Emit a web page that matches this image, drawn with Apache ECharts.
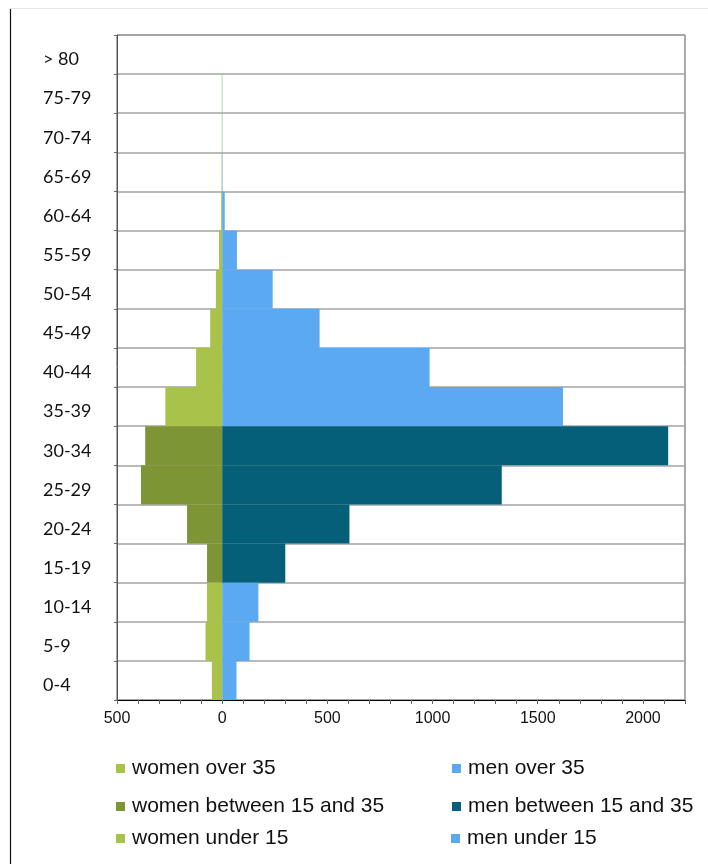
<!DOCTYPE html>
<html><head><meta charset="utf-8">
<script src="https://cdn.jsdelivr.net/npm/echarts@6/dist/echarts.min.js"></script>
<style>html,body{margin:0;padding:0;background:#fff}#c{width:708px;height:864px}</style>
</head><body><div id="c"></div>
<script>
const ageGroups = ['0-4','5-9','10-14','15-19','20-24','25-29','30-34','35-39','40-44','45-49','50-54','55-59','60-64','65-69','70-74','75-79','> 80'];
const womenOver35    = [null,null,null,null,null,null,null,-270,-124,-57,-30,-15,-5,-3,-2,-2,null];
const womenBetween   = [null,null,null,-72,-167,-386,-366,null,null,null,null,null,null,null,null,null,null];
const womenUnder15   = [-49,-79,-72,null,null,null,null,null,null,null,null,null,null,null,null,null,null];
const menOver35      = [null,null,null,null,null,null,null,1620,986,463,240,70,12,2,1,1,null];
const menBetween     = [null,null,null,300,605,1329,2120,null,null,null,null,null,null,null,null,null,null];
const menUnder15     = [68,130,172,null,null,null,null,null,null,null,null,null,null,null,null,null,null];
const seriesNames = ['women over 35','women between 15 and 35','women under 15','men over 35','men between 15 and 35','men under 15'];
const seriesColors = ['#A8C24A','#7E9535','#A8C24A','#5BA9F1','#055F79','#5BA9F1'];
const seriesData = [womenOver35, womenBetween, womenUnder15, menOver35, menBetween, menUnder15];

const chart = echarts.init(document.getElementById('c'), null, {renderer:'canvas'});
const legendPos = [
  {left:116, top:758}, {left:116, top:796}, {left:116, top:828},
  {left:452, top:758}, {left:452, top:796}, {left:451, top:828}
];
const option = {
  animation:false,
  backgroundColor:'#fff',
  graphic:[
    {type:'line', shape:{x1:10.5,y1:8,x2:10.5,y2:864}, style:{stroke:'#111',lineWidth:1.2}},
    {type:'line', shape:{x1:10,y1:8.5,x2:708,y2:8.5}, style:{stroke:'#e6e6e6',lineWidth:1}}
  ],
  legend: seriesNames.map((n,i)=>({
    data:[n], left:legendPos[i].left, top:legendPos[i].top, padding:0,
    icon:'rect', itemWidth:9, itemHeight:9, itemGap:4,
    textStyle:{fontFamily:'Liberation Sans', fontSize:21, color:'#111', padding:[0,0,0,2]},
    selectedMode:false
  })),
  grid:{left:117, right:23, top:35, bottom:164, show:true, borderColor:'#555', borderWidth:1},
  xAxis:{
    type:'value', min:-500, max:2200, interval:100,
    axisLine:{show:true, onZero:false, lineStyle:{color:'#000', width:1}},
    axisTick:{show:true, length:4, lineStyle:{color:'#666'}},
    splitLine:{show:false},
    axisLabel:{
      interval:0, margin:11, fontFamily:'Liberation Sans', fontSize:16, color:'#111',
      formatter:v => (v % 500 === 0 && v <= 2000) ? String(Math.abs(v)) : ''
    }
  },
  yAxis:{
    type:'category', data:ageGroups,
    axisLine:{show:true, onZero:false, lineStyle:{color:'#555'}},
    axisTick:{show:true, length:3, lineStyle:{color:'#666'}},
    splitLine:{show:true, lineStyle:{color:'#a3a3a3', width:1.5}},
    axisLabel:{align:'left', margin:74, fontFamily:'Lato', fontSize:18, color:'#111',
      lineHeight:10, formatter:v => '\n' + v}
  },
  series: seriesNames.map((n,i)=>({
    name:n, type:'bar', stack:'all', data:seriesData[i],
    barWidth:'100%', barCategoryGap:0,
    itemStyle:{color:seriesColors[i]},
    emphasis:{disabled:true}
  }))
};
chart.setOption(option);
</script></body></html>
